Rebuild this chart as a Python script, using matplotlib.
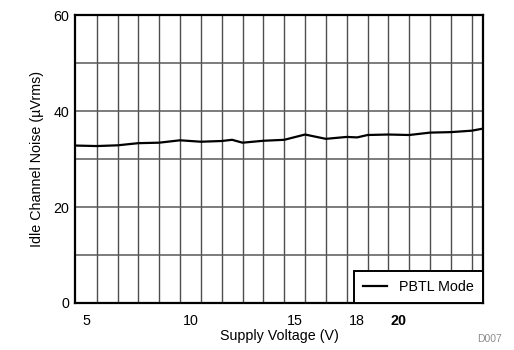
import numpy as np
import matplotlib
matplotlib.use('Agg')
import matplotlib.pyplot as plt

plt.rcParams['font.family'] = ['Liberation Sans', 'DejaVu Sans']

# PBTL idle channel noise vs supply voltage
volts = [4.5, 5.5, 6.5, 7.5, 8.5, 9.5, 10.5, 11.5, 12.0, 12.5, 13.5, 14.5,
         15.5, 16.5, 17.5, 18.0, 18.5, 19.5, 20.5, 21.5, 22.5, 23.5, 24.0]
noise = [32.8, 32.7, 32.85, 33.3, 33.4, 33.9, 33.6, 33.75, 34.0, 33.4, 33.8,
         34.0, 35.1, 34.2, 34.6, 34.5, 35.0, 35.1, 35.0, 35.5, 35.6, 35.9, 36.3]
xticks = [5, 10, 15, 18, 20]
yticks = [0, 20, 40, 60]
vgrid = np.arange(5.5, 24, 1.0)
hgrid = [10, 20, 30, 40, 50]

fig = plt.figure(figsize=(5.14, 3.5), dpi=100)
ax = fig.add_axes([0.1459, 0.1343, 0.7938, 0.8228])

for g in vgrid:
    ax.axvline(g, color='0.3', lw=1.0, zorder=1)
for g in hgrid:
    ax.axhline(g, color='0.35', lw=1.1, zorder=1)

ax.plot(volts, noise, color='k', lw=1.6, label='PBTL Mode', zorder=3)

ax.set_xlim(4.46, 24.04)
ax.set_ylim(0, 60)
ax.set_xticks(xticks)
ax.set_xticklabels([str(t) for t in xticks])
ax.set_yticks(yticks)
ax.tick_params(length=0, labelsize=10.3)
ax.tick_params(axis='x', pad=8)
ax.tick_params(axis='y', pad=4)
ax.get_xticklabels()[-1].set_fontweight('bold')
for s in ax.spines.values():
    s.set_linewidth(1.6)

ax.set_xlabel('Supply Voltage (V)', fontsize=10.3, labelpad=1)
ax.set_ylabel('Idle Channel Noise (\u00b5Vrms)', fontsize=10.3, labelpad=7)

leg = ax.legend(loc='lower right', fontsize=10.3, fancybox=False, framealpha=1,
                borderaxespad=0, handlelength=1.7, borderpad=0.62,
                handletextpad=0.85)
leg.get_frame().set_edgecolor('k')
leg.get_frame().set_linewidth(1.4)
leg.set_zorder(5)

fig.text(0.953, 0.03, 'D007', fontsize=7.5, color='0.55', ha='center', va='center')

fig.savefig('out.png', dpi=100)
